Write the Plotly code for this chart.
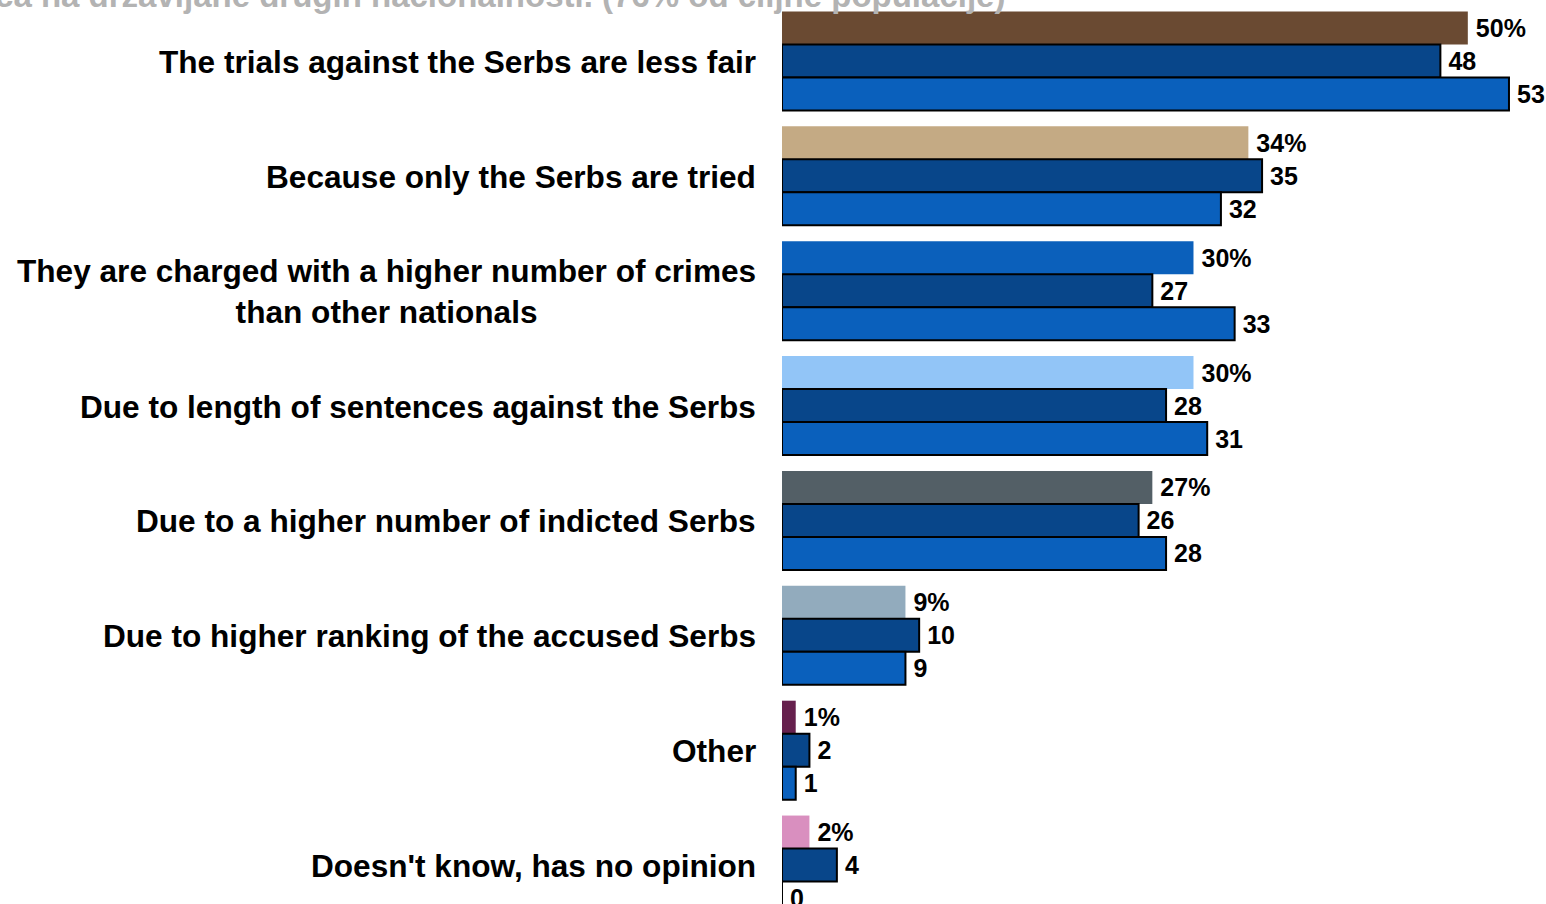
import plotly.graph_objects as go

# Survey answers, one row per reason (top to bottom)
categories = [
    "The trials against the Serbs are less fair",
    "Because only the Serbs are tried",
    "They are charged with a higher number of crimes<br>than other nationals",
    "Due to length of sentences against the Serbs",
    "Due to a higher number of indicted Serbs",
    "Due to higher ranking of the accused Serbs",
    "Other",
    "Doesn't know, has no opinion",
]
total = [50, 34, 30, 30, 27, 9, 1, 2]
group_a = [48, 35, 27, 28, 26, 10, 2, 4]
group_b = [53, 32, 33, 31, 28, 9, 1, 0]

total_colors = ["#6a4a32", "#c4aa84", "#0b60bb", "#92c5f7",
                "#535f66", "#92abbd", "#66204d", "#d98fbf"]
dark_blue = "#08468a"
mid_blue = "#0a60bc"

title_text = "vijeća na državljane drugih nacionalnosti. (76% od ciljne populacije)"

FONT = "Liberation Sans"
label_font = dict(family=FONT, size=25, color="black", weight="bold")
GAP = "\u2009"  # thin space between bar end and its value

fig = go.Figure()
fig.add_trace(go.Bar(
    y=categories, x=total, orientation="h",
    marker=dict(color=total_colors, line=dict(width=0)),
    text=[f"{GAP}{v}%" for v in total], textposition="outside",
    textfont=label_font, cliponaxis=False, constraintext="none",
    hoverinfo="skip",
))
fig.add_trace(go.Bar(
    y=categories, x=group_a, orientation="h",
    marker=dict(color=dark_blue, line=dict(color="black", width=2)),
    text=[f"{GAP}{v}" for v in group_a], textposition="outside",
    textfont=label_font, cliponaxis=False, constraintext="none",
    hoverinfo="skip",
))
fig.add_trace(go.Bar(
    y=categories, x=group_b, orientation="h",
    marker=dict(color=mid_blue, line=dict(color="black", width=2)),
    text=[f"{GAP}{v}" for v in group_b], textposition="outside",
    textfont=label_font, cliponaxis=False, constraintext="none",
    hoverinfo="skip",
))

# Category labels, centred line by line and right-aligned to the bars
for cat in categories:
    fig.add_annotation(
        x=0, xref="paper", y=cat, yref="y",
        xanchor="right", yanchor="middle", xshift=-24, yshift=-1,
        text=cat, showarrow=False, align="center",
        font=dict(family=FONT, size=31.6, color="black", weight="bold"),
    )

# Heading, running off the top edge (paper x measured across the plot area)
fig.add_annotation(
    x=(1007 - 782) / 764, xref="paper", y=1, yref="paper",
    xanchor="right", yanchor="bottom", yshift=-16,
    text=title_text, showarrow=False,
    font=dict(family=FONT, size=33, color="#b3b3b3", weight="bold"),
)

fig.update_layout(
    width=1546, height=904,
    margin=dict(l=782, r=0, t=0, b=0),
    paper_bgcolor="white", plot_bgcolor="white",
    barmode="group", bargap=0.138, bargroupgap=0,
    showlegend=False,
    xaxis=dict(range=[0, 55.7], visible=False, fixedrange=True),
    yaxis=dict(type="category", categoryorder="array", categoryarray=categories,
               range=[7.339, -0.531], showticklabels=False, showgrid=False,
               zeroline=False, showline=False, ticks=""),
)

fig.write_html("out.html")
